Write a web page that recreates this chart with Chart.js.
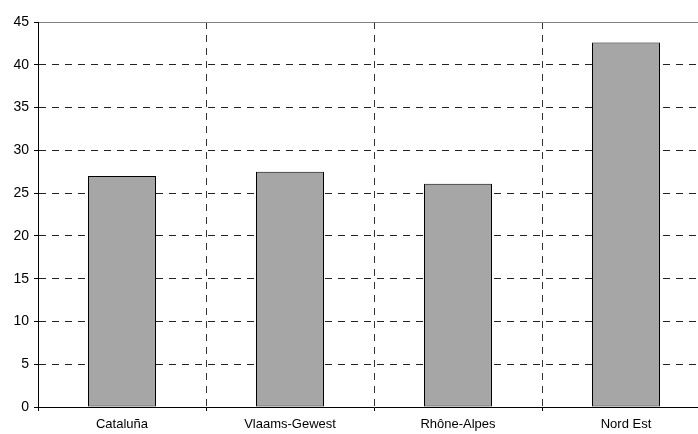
<!DOCTYPE html>
<html>
<head>
<meta charset="utf-8">
<script src="https://cdn.jsdelivr.net/npm/chart.js@4"></script>
<style>
  html, body { margin: 0; padding: 0; background: #fff; overflow: hidden; }
  #wrap { width: 712px; height: 434px; }
</style>
</head>
<body>
<div id="wrap"><canvas id="myChart"></canvas></div>
<script>
const regions = ['Cataluña', 'Vlaams-Gewest', 'Rhône-Alpes', 'Nord Est'];
const values = [27.0, 27.5, 26.1, 42.6];
const yTicks = [0, 5, 10, 15, 20, 25, 30, 35, 40, 45];

Chart.defaults.font.family = '"Liberation Sans", Arial, sans-serif';
Chart.defaults.font.size = 13;
Chart.defaults.color = '#000';

// grid lines take their dash from border.dash in v4; the axis line itself stays solid
const dashed = c => (c.tick && c.tick.value !== 45) ? [7, 6] : [];

const ctx = document.getElementById('myChart');
const myChart = new Chart(ctx, {
    type: 'bar',
    data: {
        labels: regions,
        datasets: [{
            data: values,
            backgroundColor: '#a6a6a6',
            borderColor: '#000',
            borderWidth: 1,
            borderSkipped: false,
            barPercentage: 68 / 168,
            categoryPercentage: 1
        }]
    },
    options: {
        responsive: true,
        maintainAspectRatio: false,
        animation: false,
        layout: { padding: { top: 22, right: 2, left: 0, bottom: 0 } },
        plugins: {
            legend: { display: false },
            tooltip: { enabled: false }
        },
        scales: {
            x: {
                offset: true,
                grid: {
                    offset: true,
                    color: '#333',
                    tickColor: '#000',
                    tickBorderDash: [],
                    tickLength: 4
                },
                border: { color: '#000', width: 1, dash: dashed },
                ticks: { padding: 6, maxRotation: 0 },
                afterFit: s => { s.height = 27; }
            },
            y: {
                min: 0,
                max: 45,
                afterBuildTicks: s => { s.ticks = yTicks.map(v => ({ value: v })); },
                grid: {
                    color: c => c.tick && c.tick.value === 45 ? '#808080' : '#222',
                    tickColor: '#000',
                    tickBorderDash: [],
                    tickLength: 4
                },
                border: { color: '#000', width: 1, dash: dashed },
                ticks: { padding: 5, font: { size: 14 } },
                afterFit: s => { s.width = 38; }
            }
        }
    }
});
</script>
</body>
</html>
